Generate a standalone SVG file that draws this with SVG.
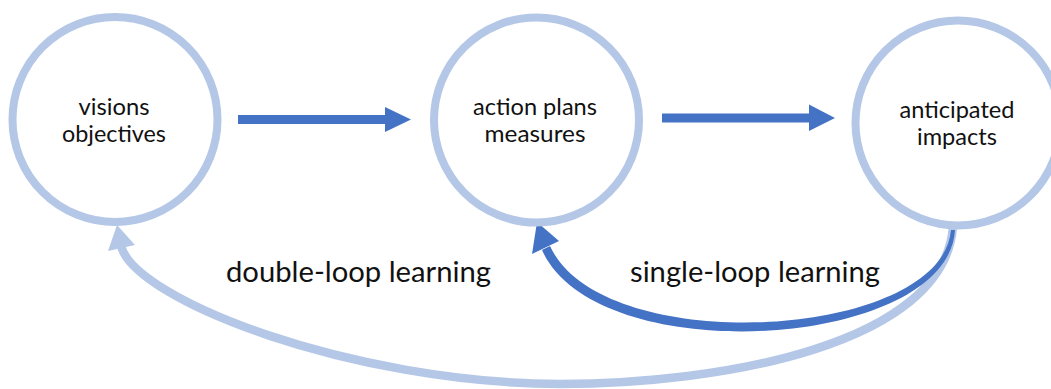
<svg xmlns="http://www.w3.org/2000/svg" width="1051" height="389" viewBox="0 0 1051 389">
  <style>
    .node { fill: #ffffff; stroke: #B4C7E7; stroke-width: 8; }
    .lbl { font-family: Lato, "Open Sans", "Liberation Sans", sans-serif; font-size: 22.4px; fill: #111111; text-anchor: middle; }
    .loop { font-family: Lato, "Open Sans", "Liberation Sans", sans-serif; font-size: 28px; fill: #111111; }
    .dark { fill: #4472C4; }
    .light { fill: #B4C7E7; }
    .lightline { fill: none; stroke: #B4C7E7; stroke-width: 8.5; }
  </style>
  <rect width="1051" height="389" fill="#ffffff"/>

  <g id="connectors">
    <g id="arrow-visions-action">
      <rect class="dark" x="238" y="115" width="149" height="9"/>
      <polygon class="dark" points="385,107 411,119.5 385,132"/>
    </g>
    <g id="arrow-action-impacts">
      <rect class="dark" x="662" y="113.5" width="149" height="9"/>
      <polygon class="dark" points="809,104.5 835,118 809,131"/>
    </g>
    <g id="double-loop">
      <path class="lightline" d="M953,226 C945,345 720,384 560,384 C350,383 135,300 121,246"/>
      <polygon class="light" points="117,225 108,251 135,245"/>
    </g>
    <g id="single-loop">
      <path class="dark" d="M542,250 C596,372 948,350 955,230 L951,230 C942,340 602,360 550,246 Z"/>
      <polygon class="dark" points="537,222 532,254 559,241"/>
    </g>
  </g>

  <g id="node-visions">
    <circle class="node" cx="115" cy="119.5" r="102.5"/>
    <text class="lbl" x="114" y="115" textLength="71" lengthAdjust="spacingAndGlyphs">visions</text>
    <text class="lbl" x="114" y="142" textLength="104" lengthAdjust="spacingAndGlyphs">objectives</text>
  </g>

  <g id="node-action">
    <circle class="node" cx="536.5" cy="120" r="102.5"/>
    <text class="lbl" x="535" y="115" textLength="124" lengthAdjust="spacingAndGlyphs">action plans</text>
    <text class="lbl" x="535" y="142" textLength="101" lengthAdjust="spacingAndGlyphs">measures</text>
  </g>

  <g id="node-impacts">
    <circle class="node" cx="958" cy="123" r="102.5"/>
    <text class="lbl" x="957" y="118" textLength="115" lengthAdjust="spacingAndGlyphs">anticipated</text>
    <text class="lbl" x="957" y="145" textLength="80" lengthAdjust="spacingAndGlyphs">impacts</text>
  </g>

  <g id="loop-labels">
    <text class="loop" x="226" y="282" textLength="265" lengthAdjust="spacingAndGlyphs">double-loop learning</text>
    <text class="loop" x="630" y="282" textLength="250" lengthAdjust="spacingAndGlyphs">single-loop learning</text>
  </g>
</svg>
